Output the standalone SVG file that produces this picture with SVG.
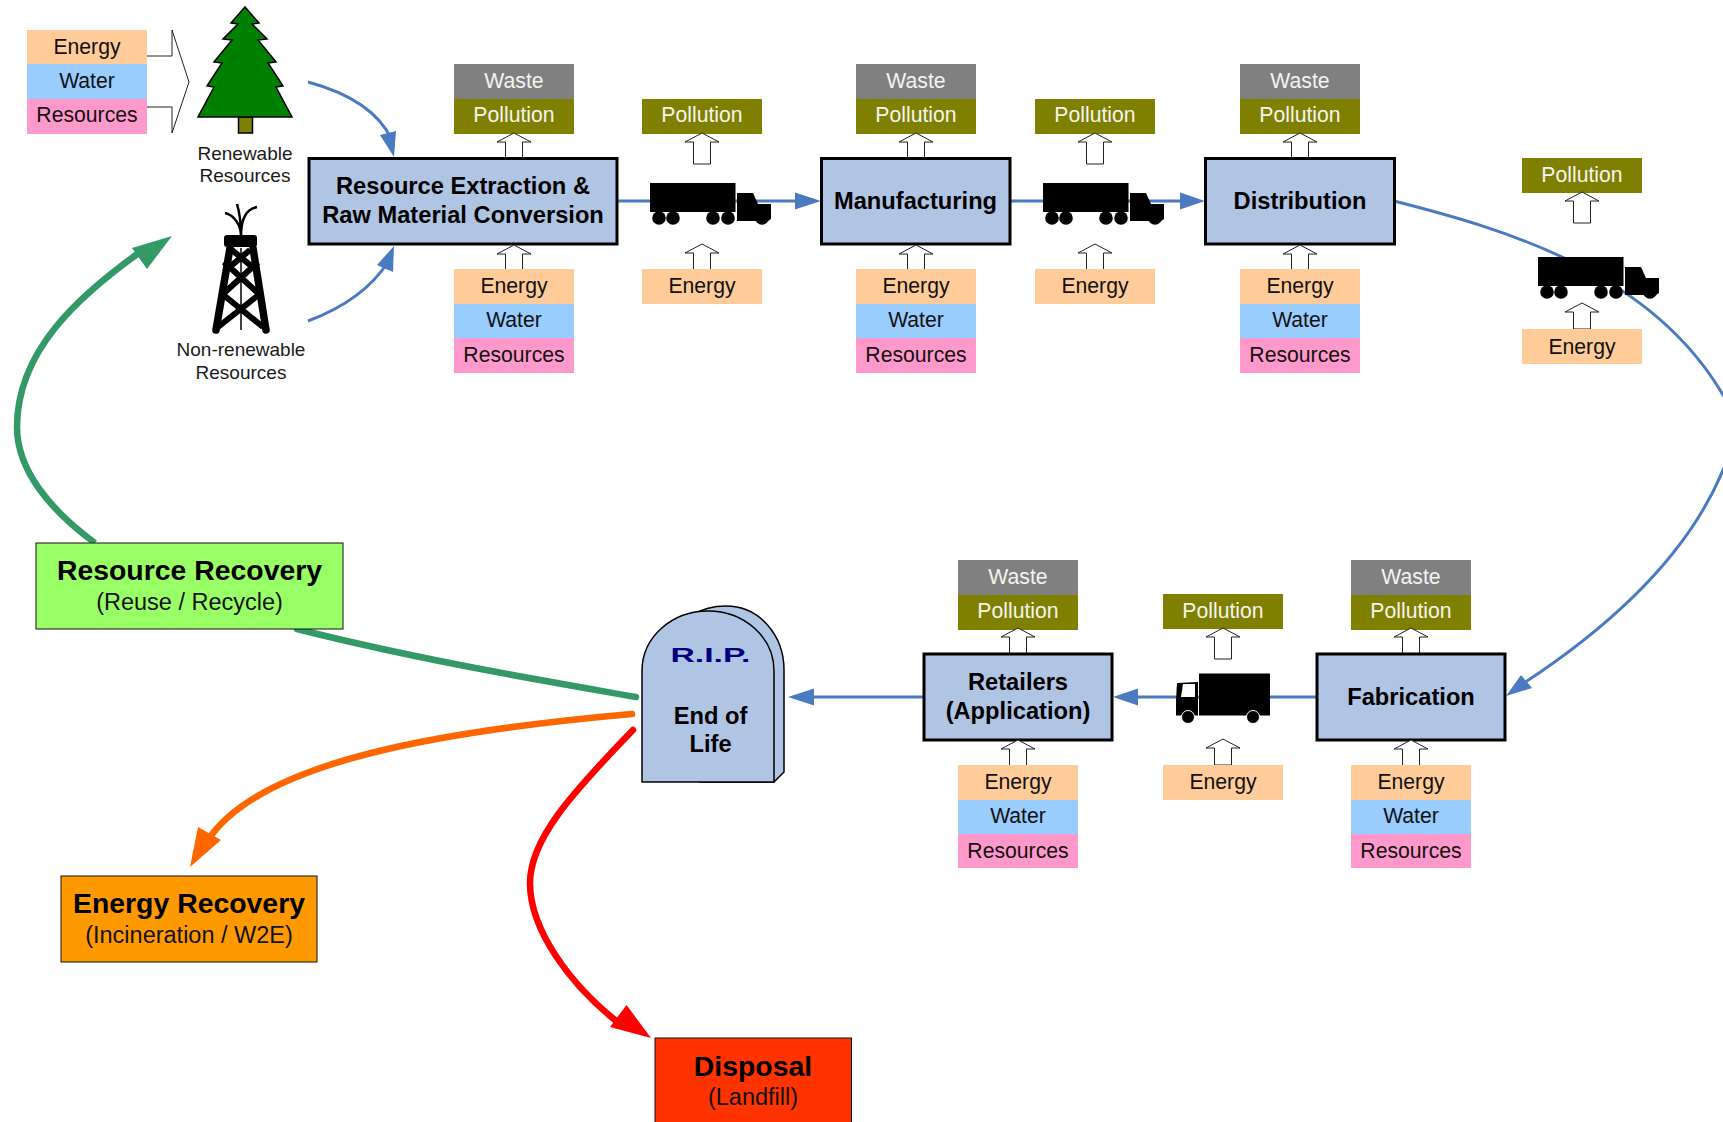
<svg xmlns="http://www.w3.org/2000/svg" xmlns:xlink="http://www.w3.org/1999/xlink" width="1723" height="1122" viewBox="0 0 1723 1122">
<style>
text{font-family:"Liberation Sans",Arial,sans-serif;text-anchor:middle}
.s{font-size:21.2px;fill:#111}
.w{font-size:21.2px;fill:#f4f4f0}
.t{font-size:23.7px;font-weight:bold;fill:#000}
.r{font-size:28.4px;font-weight:bold;fill:#000}
.q{font-size:23.5px;fill:#111}
.l{font-size:19px;fill:#1a1a1a}
.en{fill:#FFCC99}.wa{fill:#99CCFF}.re{fill:#FF99CC}.ws{fill:#808080}.po{fill:#808000}
.box{fill:#B0C4E4;stroke:#000;stroke-width:3}
.flow{fill:none;stroke:#4A7ABF;stroke-width:3}
.hb{fill:#4A7ABF}
.bar{fill:#fff;stroke:#222;stroke-width:1}
</style>
<defs>
<path id="up" class="bar" d="M0 0L17 9H8.500V26H-8.500V9H-17Z"/>
<path id="upt" class="bar" d="M0 0L17 9H8.500V31H-8.500V9H-17Z"/>
<g id="truck">
<rect width="85.500" height="29"/>
<path d="M87 10H103L108 21H121V36L118 38H87Z"/>
<circle cx="9" cy="35" r="6.800"/><circle cx="23" cy="35" r="6.800"/><circle cx="63" cy="35" r="6.800"/><circle cx="78" cy="35" r="6.800"/><circle cx="112" cy="35" r="6.800"/>
</g>
</defs>

<g id="connectors">
<path class="flow" d="M308 82C345 92 378 110 392 140"/>
<polygon class="hb" points="394,157 380,135 396,131"/>
<path class="flow" d="M308 321C340 309 370 290 388 262"/>
<polygon class="hb" points="394,246 377,265 393,272"/>
<path class="flow" d="M617 201H797"/>
<polygon class="hb" points="821,201 795,192.500 795,209.500"/>
<path class="flow" d="M1010 201H1182"/>
<polygon class="hb" points="1205,201 1180,192.500 1180,209.500"/>
<path class="flow" d="M1394 201C1500 228 1650 270 1723 395C1740 420 1735 445 1723 470C1690 550 1620 620 1524 683"/>
<polygon class="hb" points="1506,696 1521,675 1532,688"/>
<path class="flow" d="M1317 697H1136"/>
<polygon class="hb" points="1113,697 1138,688.500 1138,705.500"/>
<path class="flow" d="M924 697H812"/>
<polygon class="hb" points="788,697 814,688.500 814,705.500"/>
<path d="M636 697C540 680 420 660 297 629" fill="none" stroke="#339966" stroke-width="6.500" stroke-linecap="round"/>
<path d="M95 543C50 510 17 470 17 427C17 350 80 295 140 252" fill="none" stroke="#339966" stroke-width="6.500"/>
<polygon fill="#339966" points="172,236 132,248 147,269"/>
<path d="M632 714C450 730 260 760 208 840" fill="none" stroke="#FF6600" stroke-width="6.500" stroke-linecap="round"/>
<polygon fill="#FF6600" points="190,867 198,827 221,840"/>
<path d="M633 730C570 795 530 840 530 883C530 930 570 985 620 1024" fill="none" stroke="#FF0000" stroke-width="6.500" stroke-linecap="round"/>
<polygon fill="#FF0000" points="651,1038 626.500,1005 610,1027"/>
</g>

<g id="inputs-renewable">
<rect class="en" x="27" y="30" width="120" height="34"/><rect class="wa" x="27" y="64" width="120" height="35"/><rect class="re" x="27" y="99" width="120" height="35"/>
<text class="s" x="87" y="54">Energy</text><text class="s" x="87" y="88">Water</text><text class="s" x="87" y="122">Resources</text>
<path d="M147 56H172V30L189 82L172 133V107H147" fill="none" stroke="#222" stroke-width="1"/>
</g>

<g id="renewable-resources">
<rect x="238.500" y="117" width="14" height="16" fill="#808000" stroke="#000" stroke-width="1.500"/>
<polygon fill="#008000" stroke="#000" stroke-width="1.500" points="245,7 259,23 252,24 267,39 258,40 276,62 268,63 283,86 276,87 292,117 198,117 214,87 207,86 222,63 214,62 232,40 223,39 238,24 231,23"/>
<text class="l" x="245" y="160">Renewable</text><text class="l" x="245" y="182">Resources</text>
</g>

<g id="non-renewable-resources">
<g fill="none" stroke="#000">
<path stroke-width="2.500" d="M241 236C241 224 240 214 237 204M241 236C241 225 234 215 225 213M241 236C241 220 246 209 257 207"/>
<path stroke-width="7.500" stroke-linecap="round" d="M230 248L216 330M253 248L266 330"/>
<path stroke-width="6" d="M226 270L250 250M256 270L232 250M224 262L259 294M258 262L223 294M221 293L263 327M261 293L218 327"/>
<path stroke-width="1.500" d="M241 248V330"/>
</g>
<rect x="224" y="235" width="33" height="12" rx="3" fill="#000"/>
<text class="l" x="241" y="356">Non-renewable</text><text class="l" x="241" y="379">Resources</text>
</g>

<g id="resource-extraction">
<rect class="ws" x="454" y="64" width="120" height="35"/><rect class="po" x="454" y="99" width="120" height="35"/>
<text class="w" x="514" y="88">Waste</text><text class="w" x="514" y="122">Pollution</text>
<use href="#up" x="514" y="133"/>
<rect class="box" x="309" y="158.500" width="308" height="85.500"/>
<text class="t" x="463" y="194">Resource Extraction &amp;</text><text class="t" x="463" y="223">Raw Material Conversion</text>
<use href="#up" x="514" y="245"/>
<rect class="en" x="454" y="269" width="120" height="35"/><rect class="wa" x="454" y="304" width="120" height="34"/><rect class="re" x="454" y="338" width="120" height="35"/>
<text class="s" x="514" y="293">Energy</text><text class="s" x="514" y="327">Water</text><text class="s" x="514" y="362">Resources</text>
</g>

<g id="transport-1">
<rect class="po" x="642" y="99" width="120" height="35"/><text class="w" x="702" y="122">Pollution</text>
<use href="#upt" x="702" y="133"/>
<use href="#truck" x="650" y="183"/>
<use href="#up" x="702" y="244"/>
<rect class="en" x="642" y="269" width="120" height="35"/><text class="s" x="702" y="293">Energy</text>
</g>

<g id="manufacturing">
<rect class="ws" x="856" y="64" width="120" height="35"/><rect class="po" x="856" y="99" width="120" height="35"/>
<text class="w" x="916" y="88">Waste</text><text class="w" x="916" y="122">Pollution</text>
<use href="#up" x="916" y="133"/>
<rect class="box" x="821.500" y="158.500" width="188.500" height="85.500"/>
<text class="t" x="915.500" y="209">Manufacturing</text>
<use href="#up" x="916" y="245"/>
<rect class="en" x="856" y="269" width="120" height="35"/><rect class="wa" x="856" y="304" width="120" height="34"/><rect class="re" x="856" y="338" width="120" height="35"/>
<text class="s" x="916" y="293">Energy</text><text class="s" x="916" y="327">Water</text><text class="s" x="916" y="362">Resources</text>
</g>

<g id="transport-2">
<rect class="po" x="1035" y="99" width="120" height="35"/><text class="w" x="1095" y="122">Pollution</text>
<use href="#upt" x="1095" y="133"/>
<use href="#truck" x="1043" y="183"/>
<use href="#up" x="1095" y="244"/>
<rect class="en" x="1035" y="269" width="120" height="35"/><text class="s" x="1095" y="293">Energy</text>
</g>

<g id="distribution">
<rect class="ws" x="1240" y="64" width="120" height="35"/><rect class="po" x="1240" y="99" width="120" height="35"/>
<text class="w" x="1300" y="88">Waste</text><text class="w" x="1300" y="122">Pollution</text>
<use href="#up" x="1300" y="133"/>
<rect class="box" x="1205.500" y="158.500" width="189" height="85.500"/>
<text class="t" x="1300" y="209">Distribution</text>
<use href="#up" x="1300" y="245"/>
<rect class="en" x="1240" y="269" width="120" height="35"/><rect class="wa" x="1240" y="304" width="120" height="34"/><rect class="re" x="1240" y="338" width="120" height="35"/>
<text class="s" x="1300" y="293">Energy</text><text class="s" x="1300" y="327">Water</text><text class="s" x="1300" y="362">Resources</text>
</g>

<g id="transport-3">
<rect class="po" x="1522" y="158" width="120" height="35"/><text class="w" x="1582" y="182">Pollution</text>
<use href="#upt" x="1582" y="192"/>
<use href="#truck" x="1538" y="257"/>
<use href="#up" x="1582" y="303"/>
<rect class="en" x="1522" y="329" width="120" height="35"/><text class="s" x="1582" y="354">Energy</text>
</g>

<g id="fabrication">
<rect class="ws" x="1351" y="560" width="120" height="35"/><rect class="po" x="1351" y="595" width="120" height="35"/>
<text class="w" x="1411" y="584">Waste</text><text class="w" x="1411" y="618">Pollution</text>
<use href="#up" x="1411" y="628"/>
<rect class="box" x="1317" y="654" width="188" height="86"/>
<text class="t" x="1411" y="705">Fabrication</text>
<use href="#up" x="1411" y="740"/>
<rect class="en" x="1351" y="765" width="120" height="35"/><rect class="wa" x="1351" y="800" width="120" height="34"/><rect class="re" x="1351" y="834" width="120" height="34"/>
<text class="s" x="1411" y="789">Energy</text><text class="s" x="1411" y="823">Water</text><text class="s" x="1411" y="858">Resources</text>
</g>

<g id="transport-4">
<rect class="po" x="1163" y="594" width="120" height="35"/><text class="w" x="1223" y="618">Pollution</text>
<use href="#upt" x="1223" y="628"/>
<rect x="1199" y="673.500" width="71" height="42"/>
<path d="M1177 683L1198 682V715.500H1176V700Z"/>
<polygon points="1183,684 1195,684 1195,697 1181,697" fill="#fff"/>
<circle cx="1188" cy="717" r="6.500" stroke="#fff"/><circle cx="1253" cy="717" r="6.500" stroke="#fff"/>
<use href="#up" x="1223" y="739"/>
<rect class="en" x="1163" y="765" width="120" height="35"/><text class="s" x="1223" y="789">Energy</text>
</g>

<g id="retailers">
<rect class="ws" x="958" y="560" width="120" height="35"/><rect class="po" x="958" y="595" width="120" height="35"/>
<text class="w" x="1018" y="584">Waste</text><text class="w" x="1018" y="618">Pollution</text>
<use href="#up" x="1018" y="628"/>
<rect class="box" x="924" y="654" width="188" height="86"/>
<text class="t" x="1018" y="690">Retailers</text><text class="t" x="1018" y="719">(Application)</text>
<use href="#up" x="1018" y="740"/>
<rect class="en" x="958" y="765" width="120" height="35"/><rect class="wa" x="958" y="800" width="120" height="34"/><rect class="re" x="958" y="834" width="120" height="34"/>
<text class="s" x="1018" y="789">Energy</text><text class="s" x="1018" y="823">Water</text><text class="s" x="1018" y="858">Resources</text>
</g>

<g id="end-of-life">
<path d="M692 615C702 609 714 606 726 606C760 606 784 636 784 670V772L774 782H700Z" fill="#B0C4E4" stroke="#000" stroke-width="1.500"/>
<path d="M642 782V671C642 637 672 611 708 611C744 611 774 637 774 671V782Z" fill="#B0C4E4" stroke="#000" stroke-width="1.500"/>
<text x="710.500" y="662" font-size="20.500" font-weight="bold" fill="#000080" textLength="80" lengthAdjust="spacingAndGlyphs">R.I.P.</text>
<text class="t" x="710.500" y="724">End of</text><text class="t" x="710.500" y="752">Life</text>
</g>

<g id="resource-recovery">
<rect x="36" y="543" width="307" height="86" fill="#99FF66" stroke="#111" stroke-width="1"/>
<text class="r" x="189.500" y="580">Resource Recovery</text><text class="q" x="189.500" y="610">(Reuse / Recycle)</text>
</g>
<g id="energy-recovery">
<rect x="61" y="876" width="256" height="86" fill="#FF9900" stroke="#111" stroke-width="1"/>
<text class="r" x="189" y="913">Energy Recovery</text><text class="q" x="189" y="943">(Incineration / W2E)</text>
</g>
<g id="disposal">
<rect x="655" y="1038" width="196.500" height="90" fill="#FF3300" stroke="#111" stroke-width="1"/>
<text class="r" x="753" y="1076">Disposal</text><text class="q" x="753" y="1105">(Landfill)</text>
</g>
</svg>
